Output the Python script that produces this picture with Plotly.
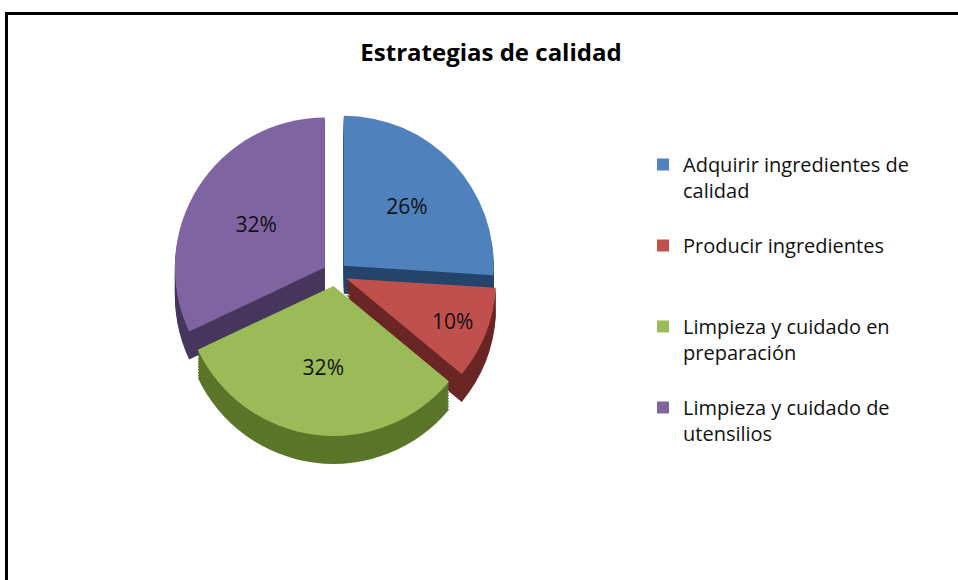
import plotly.graph_objects as go

# ---- data ----
categories = [
    "Adquirir ingredientes de<br>calidad",
    "Producir ingredientes",
    "Limpieza y cuidado en<br>preparación",
    "Limpieza y cuidado de<br>utensilios",
]
values = [26, 10, 32, 32]
title_text = "Estrategias de calidad"

top_colors = ["#4F81BD", "#C0504D", "#9BBB59", "#8064A2"]
side_colors = ["#25446B", "#6A2624", "#5B7529", "#47365E"]

W, H = 958, 580
FONT = "'Open Sans', 'Liberation Sans', sans-serif"

# pad legend entries to equal slot height (3 lines)
legend_labels = [c + "<br> " * (2 - c.count("<br>")) for c in categories]

cx, cy = 335, 274      # pie centre in px (from top)
half = 162             # half size of domain box
depth = 28             # extrusion depth in px
pull = 0.08


def dom(dy):
    x0 = (cx - half) / W
    x1 = (cx + half) / W
    y_top = cy + dy - half
    y_bot = cy + dy + half
    return dict(x=[x0, x1], y=[1 - y_bot / H, 1 - y_top / H])


fig = go.Figure()

steps = 10
for k in range(steps, 0, -1):
    dy = depth * k / steps
    fig.add_trace(go.Pie(
        labels=legend_labels, values=values, sort=False, direction="clockwise",
        rotation=0, pull=pull, domain=dom(dy), showlegend=False,
        marker=dict(colors=side_colors, line=dict(width=0)),
        textinfo="none", hoverinfo="skip",
    ))

fig.add_trace(go.Pie(
    labels=legend_labels, values=values, sort=False, direction="clockwise",
    rotation=0, pull=pull, domain=dom(0),
    marker=dict(colors=top_colors, line=dict(width=0)),
    texttemplate="%{percent:.0%}", textposition="inside",
    insidetextorientation="horizontal",
    textfont=dict(family=FONT, size=21, color="#111111"),
))

fig.update_layout(
    width=W, height=H,
    margin=dict(l=0, r=0, t=0, b=0),
    paper_bgcolor="white", plot_bgcolor="white",
    title=dict(text="<b>" + title_text + "</b>", x=491 / W, xanchor="center",
               y=1 - 53 / H, yanchor="middle", yref="container",
               font=dict(family=FONT, size=24, color="#000000")),
    legend=dict(x=643 / W, xanchor="left", y=1 - 145 / H, yanchor="top",
                valign="top", font=dict(family=FONT, size=20, color="#111111"),
                bgcolor="rgba(0,0,0,0)"),
    shapes=[dict(type="rect", xref="paper", yref="paper",
                 x0=6.5 / W, x1=1.2, y0=-0.2, y1=1 - 13.5 / H,
                 line=dict(color="black", width=3), fillcolor="rgba(0,0,0,0)")],
)

fig.write_html("out.html", config={"displayModeBar": False},
               post_script="document.body.style.margin='0';document.body.style.overflow='hidden';")
